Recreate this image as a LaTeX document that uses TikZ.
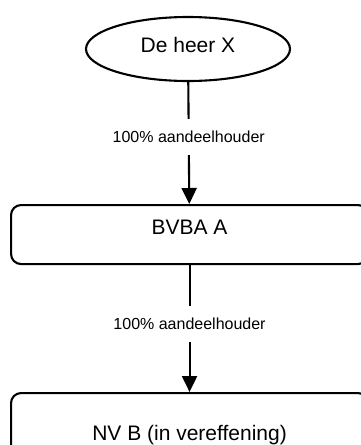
\documentclass[tikz,border=0pt]{standalone}
\usepackage{fontspec}
\setmainfont{Liberation Sans}
\usetikzlibrary{shapes.geometric,arrows.meta}
\begin{document}
\begin{tikzpicture}[x=1pt,y=-1pt,
  every node/.style={font=\fontsize{21}{24}\selectfont},
  person/.style={draw,line width=2.1pt,ellipse,minimum width=204pt,minimum height=64pt,
    inner sep=0pt,text height=15pt,text depth=8pt},
  company/.style={draw,line width=2.1pt,rounded corners=10pt,minimum width=357pt,
    inner sep=0pt,anchor=north west},
  share/.style={fill=white,font=\fontsize{16}{18}\selectfont,inner xsep=2pt,inner ysep=12pt},
  own/.style={line width=2.1pt,-{Triangle[length=16pt,width=15pt]}}]
  \useasboundingbox (0,0) rectangle (361,445);
  \clip (0,0) rectangle (361,445);
  % owner and companies
  \node[person] (x) at (188,49) {De heer X};
  \node[company,minimum height=59pt,text height=15pt,text depth=15pt] (a) at (10,204) {BVBA A};
  \node[company,minimum height=88pt,text height=15pt,text depth=8pt] (b) at (10,392) {NV B (in vereffening)};
  % shareholdings
  \draw[own] (x) -- node[share,pos=0.45] {100\% aandeelhouder} (a);
  \draw[own] (a) -- node[share,pos=0.465] {100\% aandeelhouder} (b);
\end{tikzpicture}
\end{document}
